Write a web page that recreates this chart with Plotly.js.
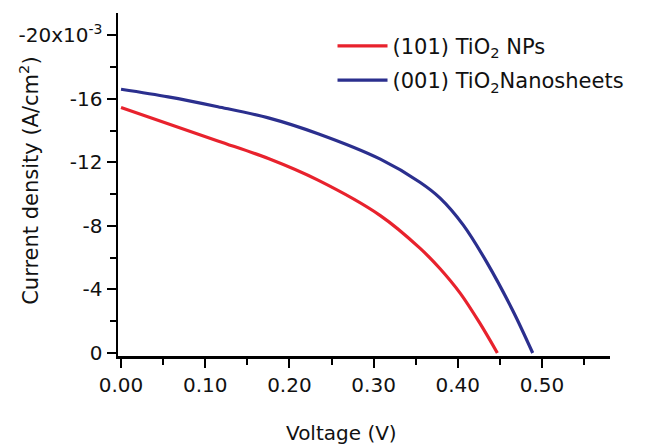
<!DOCTYPE html>
<html>
<head>
<meta charset="utf-8">
<script src="https://cdn.plot.ly/plotly-3.0.1.min.js"></script>
<style>html,body{margin:0;padding:0;background:#fff;}#chart{width:653px;height:446px;}</style>
</head>
<body>
<div id="chart"></div>
<script>
// Data
const voltageNPs = [0, 0.115, 0.175, 0.234, 0.308, 0.355, 0.379, 0.403, 0.426, 0.447];
const currentNPs = [-15.45, -13.35, -12.24, -10.88, -8.65, -6.6, -5.3, -3.75, -1.89, 0];
const voltageSheets = [0, 0.056, 0.115, 0.175, 0.234, 0.308, 0.355, 0.379, 0.4066, 0.434, 0.466, 0.489];
const currentSheets = [-16.6, -16.12, -15.5, -14.8, -13.8, -12.2, -10.75, -9.75, -8.05, -5.75, -2.6, 0];
const seriesNames = ["(101) TiO<sub>2</sub> NPs", "(001) TiO<sub>2</sub>Nanosheets"];
const xTickVals = [0, 0.1, 0.2, 0.3, 0.4, 0.5];
const xTickText = ["0.00", "0.10", "0.20", "0.30", "0.40", "0.50"];
const xMinorVals = [0.05, 0.15, 0.25, 0.35, 0.45, 0.55];
const yTickVals = [0, -4, -8, -12, -16, -20];
const yTickText = ["0", "-4", "-8", "-12", "-16", "-20x10<sup>-3</sup>"];
const yMinorVals = [-2, -6, -10, -14, -18];

const font = "DejaVu Sans, sans-serif";
const traces = [
  {x: voltageNPs, y: currentNPs, name: seriesNames[0], legendgroup: "a", mode: "lines",
   line: {color: "#e8222d", width: 3.2, shape: "spline", smoothing: 0.9}},
  {x: voltageSheets, y: currentSheets, name: seriesNames[1], legendgroup: "b", mode: "lines",
   line: {color: "#2b2f8e", width: 3.2, shape: "spline", smoothing: 0.9}}
];
const axisCommon = {
  showline: true, linecolor: "#000", linewidth: 2.5, showgrid: false, zeroline: false,
  ticks: "outside", ticklen: 9, tickwidth: 2, tickcolor: "#000",
  tickfont: {family: font, size: 20, color: "#111"}, tickmode: "array"
};
const layout = {
  width: 653, height: 446,
  margin: {l: 118, r: 43, t: 13, b: 90},
  paper_bgcolor: "#fff", plot_bgcolor: "#fff",
  showlegend: true,
  legend: {x: 0.436, y: 0.963, xanchor: "left", yanchor: "top", bgcolor: "rgba(0,0,0,0)",
    font: {family: font, size: 21, color: "#111"}, itemwidth: 50, tracegroupgap: 4, traceorder: "grouped"},
  xaxis: Object.assign({}, axisCommon, {
    range: [-0.0036, 0.5808], tickvals: xTickVals, ticktext: xTickText,
    minor: {tickvals: xMinorVals, ticks: "outside", ticklen: 6, tickwidth: 2, tickcolor: "#000"}
  }),
  yaxis: Object.assign({}, axisCommon, {
    range: [0.19, -21.4], tickvals: yTickVals, ticktext: yTickText,
    minor: {tickvals: yMinorVals, ticks: "outside", ticklen: 6, tickwidth: 2, tickcolor: "#000"}
  }),
  annotations: [
    {text: "Voltage (V)", xref: "paper", yref: "paper", x: 0.455, y: -0.225, xanchor: "center", yanchor: "middle",
     showarrow: false, font: {family: font, size: 20, color: "#111"}},
    {text: "Current density (A/cm<sup>2</sup>)", xref: "paper", yref: "paper", x: -0.18, y: 0.512, textangle: -90,
     xanchor: "center", yanchor: "middle", showarrow: false, font: {family: font, size: 21, color: "#111"}}
  ]
};
Plotly.newPlot("chart", traces, layout, {displayModeBar: false, staticPlot: true});
</script>
</body>
</html>
